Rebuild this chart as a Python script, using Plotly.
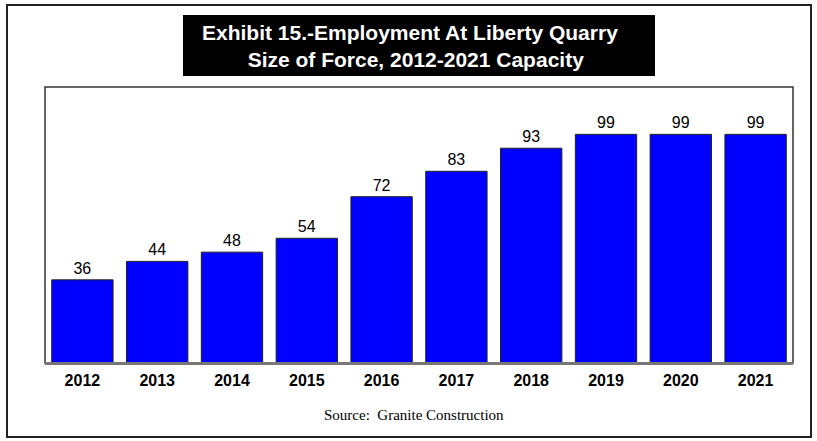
import plotly.graph_objects as go

years = ["2012", "2013", "2014", "2015", "2016", "2017", "2018", "2019", "2020", "2021"]
employees = [36, 44, 48, 54, 72, 83, 93, 99, 99, 99]

W, H = 817, 441
L, R, T, B = 45, 793, 87, 363

def px(x):
    return (x - L) / (R - L)

def py(y):
    return (B - y) / (B - T)

fig = go.Figure()
fig.add_trace(go.Bar(
    x=years, y=employees,
    marker=dict(color="#0000ff", line=dict(color="#222222", width=1)),
    text=[str(v) for v in employees],
    textposition="outside",
    textfont=dict(family="Arial, Liberation Sans", size=16, color="#000000"),
    cliponaxis=False,
    width=0.82,
))

shapes = [
    # outer border
    dict(type="rect", xref="paper", yref="paper", x0=px(7), x1=px(811), y0=py(437), y1=py(5),
         line=dict(color="#222222", width=2), fillcolor="rgba(0,0,0,0)", layer="below"),
    # inner plot box
    dict(type="rect", xref="paper", yref="paper", x0=0, x1=1, y0=0, y1=1,
         line=dict(color="#333333", width=1.5), fillcolor="rgba(0,0,0,0)", layer="above"),
    # baseline
    dict(type="line", xref="paper", yref="paper", x0=0, x1=1, y0=py(363.5), y1=py(363.5),
         line=dict(color="#777777", width=3), layer="above"),
    # title box
    dict(type="rect", xref="paper", yref="paper", x0=px(183), x1=px(655), y0=py(76), y1=py(15),
         line=dict(width=0), fillcolor="#000000", layer="below"),
]

annotations = [
    dict(xref="paper", yref="paper", x=px(410), y=py(46), xanchor="center", yanchor="middle",
         text="<b>Exhibit 15.-Employment At Liberty Quarry<br>  Size of Force, 2012-2021 Capacity</b>",
         showarrow=False, align="center",
         font=dict(family="Arial, Liberation Sans", size=21, color="#ffffff")),
    dict(xref="paper", yref="paper", x=px(414), y=py(415), xanchor="center", yanchor="middle",
         text="Source:  Granite Construction", showarrow=False,
         font=dict(family="Times New Roman, Liberation Serif", size=15, color="#000000")),
]

fig.update_layout(
    width=W, height=H,
    margin=dict(l=L, r=W - R, t=T, b=H - B),
    paper_bgcolor="#ffffff", plot_bgcolor="#ffffff",
    showlegend=False,
    bargap=0.18,
    shapes=shapes,
    annotations=annotations,
    xaxis=dict(showgrid=False, zeroline=False, showline=False, ticks="",
               tickfont=dict(family="Arial, Liberation Sans", size=16, color="#000000", weight="bold"),
               ticklabelstandoff=6),
    yaxis=dict(range=[0, 119.5], showgrid=False, zeroline=False, showline=False,
               showticklabels=False, ticks=""),
)

fig.write_html("out.html")
